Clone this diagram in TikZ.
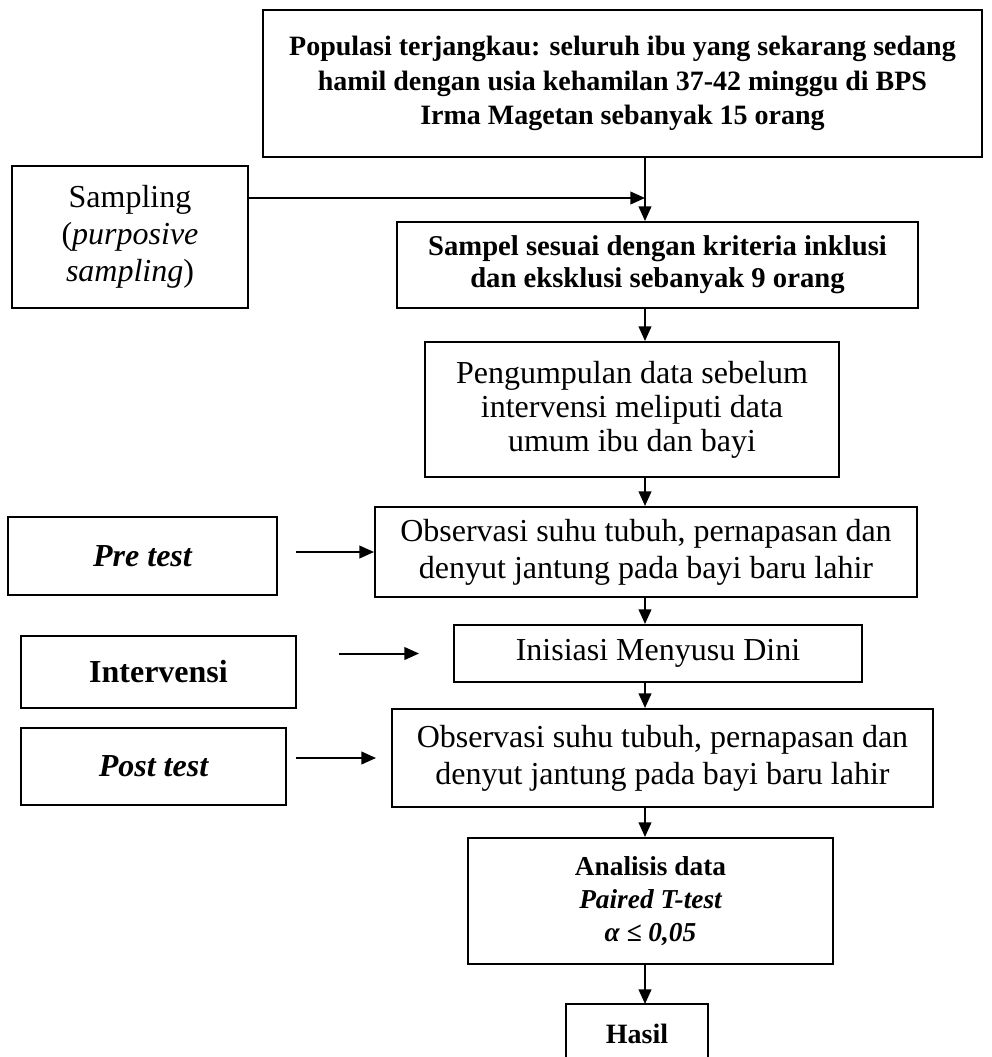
\documentclass[tikz,border=0pt]{standalone}
\usepackage{fontspec}
\setmainfont{Liberation Serif}
\usetikzlibrary{arrows.meta}

\tikzset{every picture/.style={line width=1.5pt}}
\tikzset{
  box/.style={draw, align=center, inner sep=0pt},
  reg/.style={font=\fontsize{24}{27.75}\selectfont},
  bld/.style={font=\fontsize{21.5}{24}\selectfont\bfseries},
  lbl/.style={font=\fontsize{24}{27}\selectfont\bfseries},
  arr/.style={-{Triangle[length=11pt,width=9.5pt]}},
}

\begin{document}
\begin{tikzpicture}[x=0.75pt,y=0.75pt,yscale=-1,xscale=1]
\useasboundingbox (0,0) rectangle (992,1057);

% Populasi
\node[box, minimum width=539.25pt, minimum height=110.25pt, font=\fontsize{21}{26}\selectfont\bfseries] (popul) at (622.5,83.5)
  {Populasi terjangkau: seluruh ibu yang sekarang sedang\\ hamil dengan usia kehamilan 37-42 minggu di BPS\\ Irma Magetan sebanyak 15 orang};
% Sampling
\node[box, reg, minimum width=177pt, minimum height=106.5pt] (sampling) at (130,237)
  {Sampling\\ (\textit{purposive}\\ \textit{sampling})};
% Sampel
\node[box, bld, minimum width=390.75pt, minimum height=64.5pt] (sampel) at (657.5,265)
  {Sampel sesuai dengan kriteria inklusi\\ dan eksklusi sebanyak 9 orang};
% Pengumpulan data
\node[box, reg, minimum width=310.5pt, minimum height=101.25pt, font=\fontsize{24}{25.5}\selectfont] (kumpul) at (632,409.5)
  {Pengumpulan data sebelum\\ intervensi meliputi data\\ umum ibu dan bayi};
% Pre test
\node[box, lbl, minimum width=201.75pt, minimum height=58.5pt] (pretest) at (142.5,556)
  {\itshape Pre test};
\node[box, reg, minimum width=406.5pt, minimum height=67.5pt] (obspre) at (646,552)
  {Observasi suhu tubuh, pernapasan dan\\ denyut jantung pada bayi baru lahir};
% Intervensi
\node[box, lbl, minimum width=206.25pt, minimum height=54pt] (interv) at (158.5,672)
  {Intervensi};
\node[box, reg, minimum width=306pt, minimum height=42.75pt] (imd) at (658,653.5)
  {Inisiasi Menyusu Dini};
% Post test
\node[box, lbl, minimum width=198.75pt, minimum height=57.75pt] (posttest) at (153.5,766.5)
  {\itshape Post test};
\node[box, reg, minimum width=405.75pt, minimum height=73.5pt] (obspost) at (662.5,758)
  {Observasi suhu tubuh, pernapasan dan\\ denyut jantung pada bayi baru lahir};
% Analisis
\node[box, minimum width=273.75pt, minimum height=94.5pt, font=\fontsize{20.5}{24.5}\selectfont\bfseries] (analisis) at (650.5,901)
  {Analisis data\\ \itshape Paired T-test\\ \itshape α ≤ 0,05};
% Hasil
\node[font=\fontsize{21}{25}\selectfont\bfseries, minimum width=105pt, minimum height=42.75pt] (hasil) at (637,1033.5) {Hasil};
\draw (hasil.south west) -- (hasil.north west) -- (hasil.north east) -- (hasil.south east);

% Arrows
\coordinate (spine) at (645,198);
\draw[arr] (popul.south -| spine) -- (sampel.north -| spine);
\draw[arr] (sampling.east |- spine) -- (spine);
\draw[arr] (sampel.south -| spine) -- (kumpul.north -| spine);
\draw[arr] (kumpul.south -| spine) -- (obspre.north -| spine);
\draw[arr] (obspre.south -| spine) -- (imd.north -| spine);
\draw[arr] (imd.south -| spine) -- (obspost.north -| spine);
\draw[arr] (obspost.south -| spine) -- (analisis.north -| spine);
\draw[arr] (analisis.south -| spine) -- (hasil.north -| spine);

\draw[arr] ([xshift=13.5pt]pretest.east |- obspre.west) -- (obspre.west);
\draw[arr] ([xshift=31.5pt]interv.east |- imd.west) -- ([xshift=-25.5pt]imd.west);
\draw[arr] ([xshift=6.75pt]posttest.east |- obspost.west) -- ([xshift=-11.25pt]obspost.west);

\end{tikzpicture}
\end{document}
